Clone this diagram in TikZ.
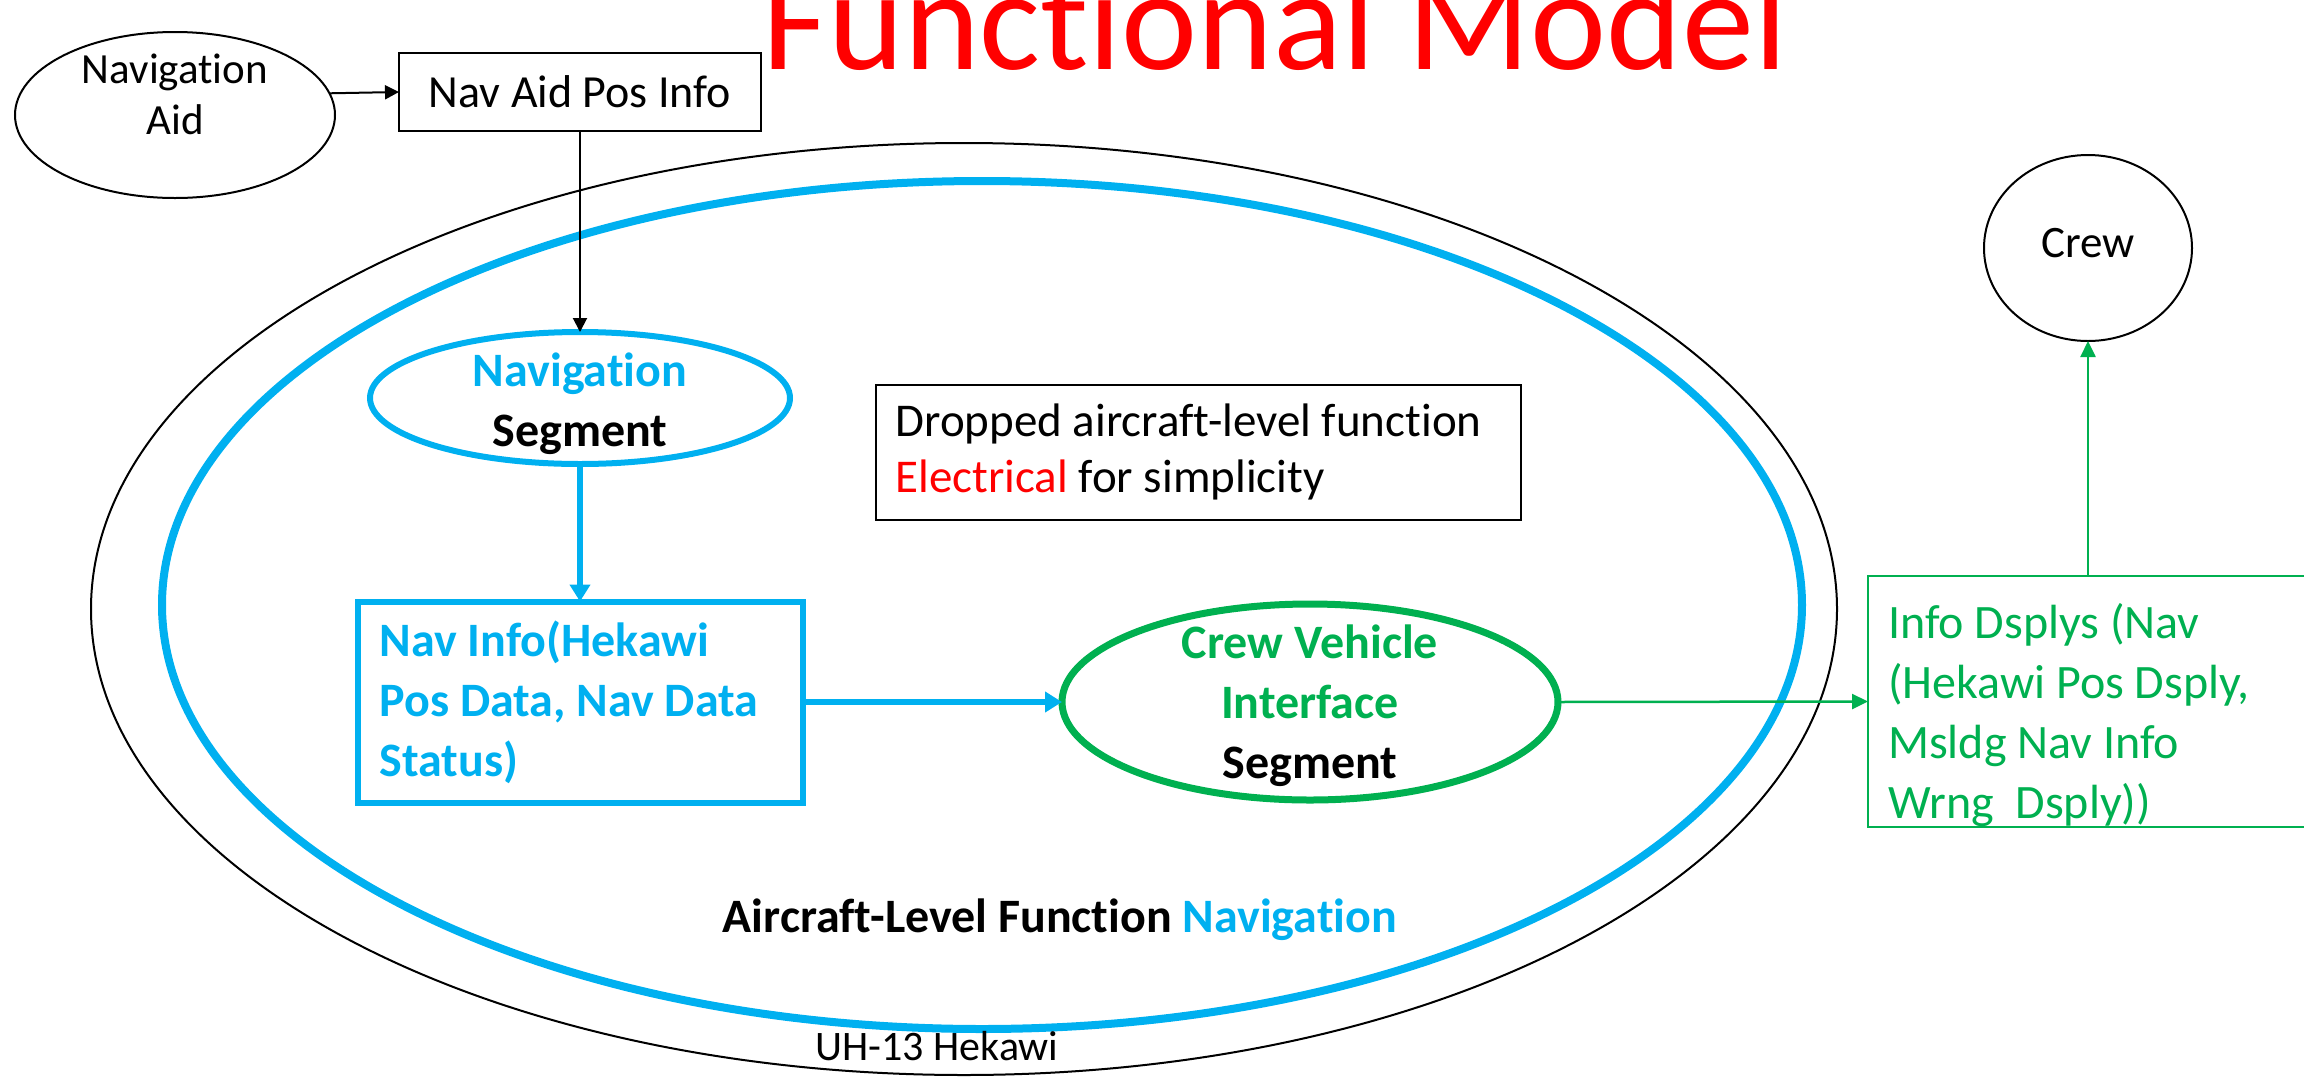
\documentclass[tikz,border=0pt]{standalone}
\usepackage{fontspec}
\setmainfont{Carlito}[Ligatures={NoCommon,NoContextual,NoRequired},Contextuals=NoAlternate]
\usetikzlibrary{shapes.geometric,arrows.meta}
\definecolor{navblue}{RGB}{0,176,240}
\definecolor{cvgreen}{RGB}{0,176,80}
\definecolor{alertred}{RGB}{255,0,0}
\newcommand{\fsz}[2]{\fontsize{#1}{#2}\selectfont}
% keeps the font from joining t and i into one glyph
\newcommand{\nj}{\kern0pt}
\begin{document}
\begin{tikzpicture}[x=0.5pt,y=-0.5pt,
  every node/.style={inner sep=0pt,outer sep=0pt},
  oval/.style={ellipse,draw=black,line width=1pt},
  plainbox/.style={rectangle,draw=black,line width=1pt},
  boldtext/.style={font=\fsz{24}{30}\bfseries},
  blackflow/.style={draw=black,line width=1pt,-{Triangle[length=7pt,width=7pt]}},
  blueflow/.style={draw=navblue,line width=3pt,-{Triangle[length=8.5pt,width=10pt]}},
  greenflow/.style={draw=cvgreen,line width=1.25pt,-{Triangle[length=8pt,width=7.5pt]}}]
\useasboundingbox (0,0) rectangle (2304,1077);
\clip (0,0) rectangle (2304,1077);

% title
\node[anchor=base,text=alertred,font=\fsz{72}{86}] (title) at (1275,69) {Funct\nj ional Model};

% aircraft and aircraft-level function boundaries
\node[oval,minimum width=873pt,minimum height=466pt] (hekawi) at (964,609) {};
\node[ellipse,draw=navblue,line width=4pt,minimum width=820pt,minimum height=424pt] (navfn) at (982,605) {};
\node[boldtext] (fnlabel) at (1060,920) {Aircraft-Level Funct\nj ion \textcolor{navblue}{Navigat\nj ion}};
\node[font=\fsz{21}{25}] (aclabel) at (937,1046) {UH-13 Hekawi};

% external source
\node[oval,minimum width=160pt,minimum height=83pt] (navaid) at (175,115) {};
\node[align=center,font=\fsz{21.5}{25.5}] (navaidtext) at (175,94) {Navigat\nj ion\\Aid};
\node[plainbox,minimum width=181pt,minimum height=39pt,font=\fsz{23}{28}] (navaidpos) at (580,92) {Nav Aid Pos Info};

% segments and flows inside the function
\node[ellipse,draw=navblue,line width=3pt,minimum width=210pt,minimum height=66pt,
  label={[boldtext,align=center,yshift=-3pt]center:{\textcolor{navblue}{Navigat\nj ion}\\Segment}}] (navseg) at (580,398) {};
\node[rectangle,draw=navblue,line width=3pt,text width=200.5pt,inner xsep=11pt,minimum height=100.5pt,
  align=flush left,boldtext,text=navblue] (navinfo) at (580,702) {Nav Info(Hekawi\\Pos Data, Nav Data\\Status)};
\node[ellipse,draw=cvgreen,line width=3.5pt,minimum width=248pt,minimum height=98pt,
  label={[boldtext,align=center,yshift=-2pt]center:{\textcolor{cvgreen}{Crew Vehicle}\\\textcolor{cvgreen}{Interface}\\Segment}}] (cv) at (1310,702) {};

% note
\node[plainbox,text width=302.5pt,inner xsep=10pt,minimum height=67.5pt,align=flush left,font=\fsz{23.5}{28}] (dropped) at (1198,452)
  {Dropped aircraft-level funct\nj ion\\\textcolor{alertred}{Electrical} for simplicity};

% output to the crew
\node[rectangle,draw=cvgreen,line width=1.25pt,minimum width=260pt,minimum height=125.5pt,anchor=north west] (infobox) at (1868,576) {};
\node[anchor=west,align=left,text=cvgreen,font=\fsz{24}{30}] (infotext) at (1888,715)
  {Info Dsplys (Nav\\(Hekawi Pos Dsply,\\Msldg Nav Info\\Wrng\ \ Dsply))};
\node[oval,minimum width=104pt,minimum height=93pt] (crew) at (2088,248) {};
\node[font=\fsz{22.5}{27}] (crewtext) at (2088,243) {Crew};

% connectors
\draw[blackflow] (navaid.8.5) -- (navaidpos.west);
\draw[blackflow] (navaidpos.south) -- (navseg.north);
\draw[blueflow] (navseg.south) -- (navinfo.north);
\draw[blueflow] (navinfo.east) -- (cv.west);
\draw[greenflow] (cv.east) -- (infobox.west);
\draw[greenflow] (crew.south |- infobox.north) -- (crew.south);
\end{tikzpicture}
\end{document}
